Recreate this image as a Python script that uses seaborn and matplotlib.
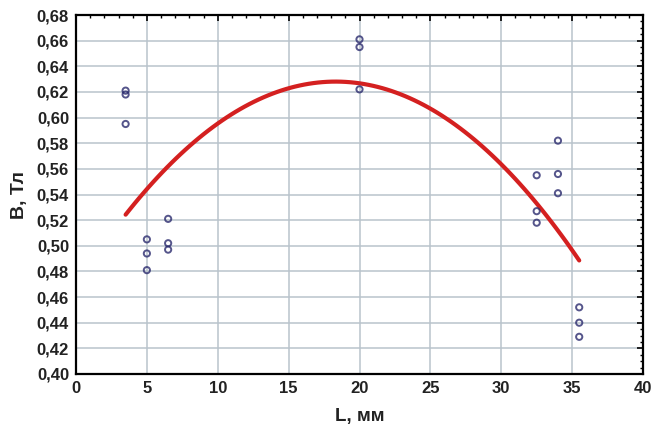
import numpy as np
import pandas as pd
import matplotlib
matplotlib.use("Agg")
import matplotlib.pyplot as plt
import seaborn as sns
from matplotlib.ticker import FuncFormatter, MultipleLocator

L_mm = [3.5, 3.5, 3.5, 5.0, 5.0, 5.0, 6.5, 6.5, 6.5, 20.0, 20.0, 20.0,
        32.5, 32.5, 32.5, 34.0, 34.0, 34.0, 35.5, 35.5, 35.5]
B_T = [0.621, 0.618, 0.595, 0.505, 0.494, 0.481, 0.521, 0.502, 0.497,
       0.661, 0.655, 0.622, 0.555, 0.527, 0.518, 0.582, 0.556, 0.541,
       0.452, 0.440, 0.429]

df = pd.DataFrame({"L": L_mm, "B": B_T})

sns.set_style("white")
plt.rcParams['font.family'] = ['Liberation Sans', 'DejaVu Sans']

fig = plt.figure(figsize=(6.53, 4.34), dpi=100)
ax = fig.add_axes([76/653, 1-374/434, (643-76)/653, (374-15)/434])

sns.regplot(data=df, x="L", y="B", order=2, ci=None, ax=ax,
            scatter_kws=dict(marker="o", s=20, facecolors="none",
                             edgecolors="#2b2b6e", linewidths=1.4, zorder=4),
            line_kws=dict(color="#d42020", lw=3, zorder=3), truncate=True)

ax.set_xlim(0, 40)
ax.set_ylim(0.40, 0.68)
ax.xaxis.set_major_locator(MultipleLocator(5))
ax.xaxis.set_minor_locator(MultipleLocator(1))
ax.yaxis.set_major_locator(MultipleLocator(0.02))
ax.yaxis.set_minor_locator(MultipleLocator(0.005))
ax.yaxis.set_major_formatter(FuncFormatter(lambda v, p: f"{v:.2f}".replace(".", ",")))
ax.xaxis.set_major_formatter(FuncFormatter(lambda v, p: f"{v:.0f}"))

ax.grid(True, which="major", color="#b9c3cc", lw=1.1)
ax.set_axisbelow(True)
for s in ax.spines.values():
    s.set_visible(True)
    s.set_color("black")
    s.set_linewidth(1.6)

ax.tick_params(which="both", direction="in", top=True, right=True, color="black")
ax.tick_params(which="major", length=4, width=1.2, labelsize=12, pad=5)
ax.tick_params(which="minor", length=2.5, width=1)
for lab in ax.get_xticklabels() + ax.get_yticklabels():
    lab.set_fontweight("bold")
    lab.set_color("#222222")

ax.set_xlabel("L, мм", fontsize=13.5, fontweight="bold", color="#222222", labelpad=9)
ax.set_ylabel("B, Тл", fontsize=14, fontweight="bold", color="#222222", labelpad=6)

fig.savefig("out.png", dpi=100)
